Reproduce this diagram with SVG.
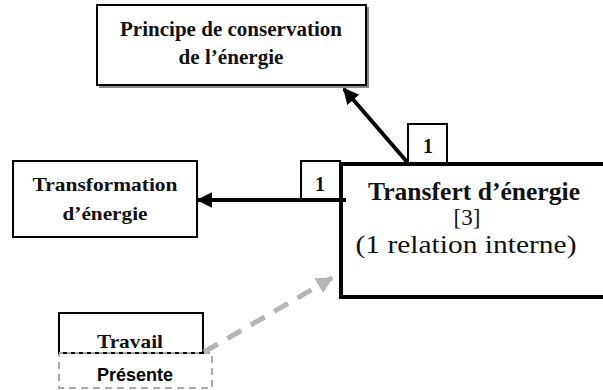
<svg xmlns="http://www.w3.org/2000/svg" width="603" height="390" viewBox="0 0 603 390">
<defs>
<style>
.box{fill:#fff;stroke:#000;stroke-width:2}
.b{font-family:"Liberation Serif","Times New Roman",serif;font-weight:bold;fill:#111;text-anchor:middle}
.r{font-family:"Liberation Serif","Times New Roman",serif;fill:#111;text-anchor:middle}
.s{font-family:"Liberation Sans",Arial,sans-serif;font-weight:bold;fill:#000;text-anchor:middle}
.conn{fill:none;stroke:#000;stroke-width:4}
.gconn{fill:none;stroke:#b5b5b5;stroke-width:5;stroke-dasharray:16 11}
</style>
<marker id="ah" viewBox="0 0 10 10" refX="9" refY="5" markerWidth="4" markerHeight="4" orient="auto" markerUnits="strokeWidth">
<path d="M0,0 L10,5 L0,10 Z" fill="#000"/>
</marker>
<marker id="gah" viewBox="0 0 10 10" refX="9" refY="5" markerWidth="3.4" markerHeight="3.4" orient="auto" markerUnits="strokeWidth">
<path d="M0,0 L10,5 L0,10 Z" fill="#b5b5b5"/>
</marker>
</defs>
<rect width="603" height="390" fill="#fff"/>

<g id="principe">
<rect x="99" y="7" width="270" height="81" fill="#888"/>
<rect class="box" x="97" y="5" width="269" height="80"/>
<text class="b" x="231" y="36" font-size="20" textLength="222" lengthAdjust="spacingAndGlyphs">Principe de conservation</text>
<text class="b" x="231" y="64" font-size="20" textLength="105" lengthAdjust="spacingAndGlyphs">de l’énergie</text>
</g>

<g id="transformation">
<rect class="box" x="13" y="161" width="184" height="76"/>
<text class="b" x="105" y="191" font-size="19" textLength="145" lengthAdjust="spacingAndGlyphs">Transformation</text>
<text class="b" x="105" y="220" font-size="19" textLength="85" lengthAdjust="spacingAndGlyphs">d’énergie</text>
</g>

<g id="transfert">
<rect x="341" y="164" width="280" height="133" fill="#fff" stroke="#000" stroke-width="4"/>
<text class="b" x="474" y="200" font-size="25" textLength="212" lengthAdjust="spacingAndGlyphs">Transfert d’énergie</text>
<text class="r" x="467" y="225" font-size="23">[3]</text>
<text class="r" x="466" y="253" font-size="25" textLength="221" lengthAdjust="spacingAndGlyphs">(1 relation interne)</text>
</g>

<g id="travail">
<rect x="59" y="353" width="153" height="35" fill="#fff" stroke="#aaa" stroke-width="2" stroke-dasharray="7 5"/>
<rect x="59" y="313" width="144" height="40" fill="#fff" stroke="#000" stroke-width="2"/>
<line x1="59" y1="353" x2="203" y2="353" stroke="#aaa" stroke-width="2" stroke-dasharray="4 4"/>
<text class="b" x="130" y="348" font-size="19" textLength="66" lengthAdjust="spacingAndGlyphs">Travail</text>
<text class="s" x="135" y="381" font-size="18" textLength="76" lengthAdjust="spacingAndGlyphs">Présente</text>
</g>

<g id="connectors">
<line class="conn" x1="408" y1="163" x2="344" y2="89" marker-end="url(#ah)"/>
<line class="conn" x1="346" y1="200" x2="198" y2="200" marker-end="url(#ah)"/>
<line class="gconn" x1="204" y1="352" x2="332" y2="278" marker-end="url(#gah)"/>
</g>

<g id="label-top">
<rect class="box" x="408" y="124" width="39" height="39"/>
<text class="b" x="428" y="153" font-size="20">1</text>
</g>
<g id="label-left">
<rect class="box" x="301" y="161" width="39" height="38"/>
<text class="b" x="320" y="191" font-size="20">1</text>
</g>
</svg>
